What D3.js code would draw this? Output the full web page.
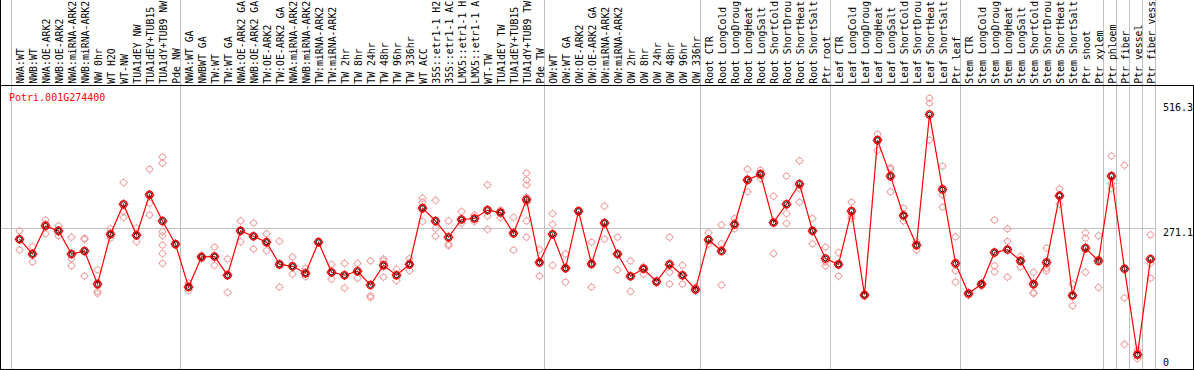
<!DOCTYPE html>
<html><head><meta charset="utf-8">
<script src="https://cdn.jsdelivr.net/npm/d3@7"></script>
<style>body{margin:0;background:#fff}svg{display:block}</style>
</head><body><svg id="c" width="1194" height="370"></svg>
<script>
const gene = "Potri.001G274400";
const labels = [
"NWA:WT","NWB:WT","NWA:OE-ARK2","NWB:OE-ARK2","NWA:miRNA-ARK2","NWB:miRNA-ARK2","NW 0hr","WT H2O","WT-NW","TUA1dEY NW","TUA1dEY+TUB15","TUA1dY+TUB9 NW","Pde NW",
"NWA:WT GA","NWBWT GA","TW:WT","TW:WT GA","NWA:OE-ARK2 GA","NWB:OE-ARK2 GA","TW:OE-ARK2","TW:OE-ARK2 GA","NWA:miRNA-ARK2","NWB:miRNA-ARK2","TW:miRNA-ARK2","TW:miRNA-ARK2","TW 2hr","TW 8hr","TW 24hr","TW 48hr","TW 96hr","TW 336hr","WT ACC","35S::etr1-1 H2","35S::etr1-1 AC","LMX5::etr1-1 H","LMX5::etr1-1 A","WT-TW","TUA1dEY TW","TUA1dEY+TUB15","TUA1dY+TUB9 TW","Pde TW",
"OW:WT","OW:WT GA","OW:OE-ARK2","OW:OE-ARK2 GA","OW:miRNA-ARK2","OW:miRNA-ARK2","OW 2hr","OW 8hr","OW 24hr","OW 48hr","OW 96hr","OW 336hr",
"Root CTR","Root LongCold","Root LongDroug","Root LongHeat","Root LongSalt","Root ShortCold","Root ShortDrou","Root ShortHeat","Root ShortSalt","Ptr root",
"Leaf CTR","Leaf LongCold","Leaf LongDroug","Leaf LongHeat","Leaf LongSalt","Leaf ShortCold","Leaf ShortDrou","Leaf ShortHeat","Leaf ShortSalt","Ptr leaf",
"Stem CTR","Stem LongCold","Stem LongDroug","Stem LongHeat","Stem LongSalt","Stem ShortCold","Stem ShortDrou","Stem ShortHeat","Stem ShortSalt","Ptr shoot","Ptr xylem",
"Ptr phloem","Ptr fiber","Ptr vessel","Ptr fiber vess"];
const means = [249,219,276,266,219,225,158,259,320,257,339,286,239,
152,213,214,176,266,255,243,198,194,180,243,182,176,184,156,196,176,198,312,286,253,289,291,308,303,261,329,202,
259,190,306,199,282,219,174,189,163,198,176,147,
248,225,279,369,381,283,320,361,266,210,
198,306,136,450,377,297,237,502,350,200,
139,158,222,228,205,158,202,337,135,231,205,
377,189,15,209];
const reps = [
[266,249,227],[234,220,203],[288,280,260],[276,265,256],[253,209,195],[251,249,174],[187,143,139],[270,259,251],[364,305,293],[271,257,244],[391,322,298],[416,403,264,256,237,220,200],[239],
[160,152,145],[216,213,209],[233,214,196],[209,176,141],[286,266,244],[282,255,229],[260,243,226],[245,198,152],[213,194,178],[190,180,173],[243],[198,182,168],[200,176,150],[200,184,170],[205,134,131],[209,205,172],[188,176,165],[210,198,185],[332,324,312,285],[328,271,255],[286,239,236],[305,289,281],[298,291,285],[359,296,269],[308,303,293],[293,260,227],[383,369,359,334,324,286,253],[228,202,174],
[301,279,196],[219,190,162],[306],[243,199,152],[316,282,249],[253,219,187],[205,174,143],[193,189,178],[163],[253,182,158],[196,176,158],[152,147,145],
[262,248,239],[278,240,156],[291,279,270],[391,372,345],[389,380,372],[336,282,220],[377,301,281],[408,352,324],[291,266,240],[233,203,195],
[222,198,174],[324,296,291],[138,136,134],[462,450,429],[394,391,345],[312,297,286],[244,237,227],[535,525,450],[397,339,314],[254,185,162],
[141,138,135],[159,157,154],[288,195,183],[270,245,172],[214,205,193],[182,141,139],[231,190,185],[351,337,320],[158,134,114],[262,251,182],[256,209,151],
[418,362,352],[399,130,36],[24,15,7],[258,200,170]];
const groupStarts = [0,13,41,53,63,73,84,85,86,87,88];
const yTicks = [0,271.1,516.3];
const refLine = 271.1;

const W = 1194, H = 370, headerY = 85.5, bottomY = 369.5, plotRight = 1155.5;
const svg = d3.select("#c");
const font = "'DejaVu Sans Mono', 'Liberation Mono', monospace";

const x = d3.scaleBand().domain(d3.range(labels.length)).range([13, 13 + 13 * labels.length]);
const cx = i => x(i) + x.bandwidth() / 2;
const y = d3.scaleLinear().domain([0, 516.3]).range([362, 107.4]);

// separators
svg.append("g").selectAll("line").data(groupStarts).join("line")
  .attr("x1", d => (d < labels.length ? x(d) : x(labels.length - 1) + x.step()) - 1.5)
  .attr("x2", d => (d < labels.length ? x(d) : x(labels.length - 1) + x.step()) - 1.5)
  .attr("y1", 0).attr("y2", bottomY)
  .attr("stroke", "#c0c0c0").attr("stroke-width", 1);

// reference gridline
svg.append("line").attr("x1", 0).attr("x2", plotRight)
  .attr("y1", Math.round(y(refLine)) + 0.5).attr("y2", Math.round(y(refLine)) + 0.5)
  .attr("stroke", "#c0c0c0").attr("stroke-width", 1);

// frame
svg.append("line").attr("x1", 0).attr("x2", W).attr("y1", headerY).attr("y2", headerY).attr("stroke", "#000");
svg.append("line").attr("x1", 0).attr("x2", W).attr("y1", bottomY).attr("y2", bottomY).attr("stroke", "#000");
svg.append("line").attr("x1", 0.5).attr("x2", 0.5).attr("y1", 0).attr("y2", H).attr("stroke", "#000");
svg.append("line").attr("x1", W - 0.5).attr("x2", W - 0.5).attr("y1", headerY).attr("y2", H).attr("stroke", "#000");

// column labels
svg.append("g").selectAll("text").data(labels).join("text")
  .attr("transform", (d, i) => `translate(${cx(i) + 4},83.8) rotate(-90)`)
  .attr("font-family", font).attr("font-size", 9.85).attr("fill", "#000")
  .text(d => d);

// title
svg.append("text").attr("x", 9).attr("y", 101).attr("font-family", font)
  .attr("font-size", 10).attr("fill", "#ff0000").text(gene);

// marker path: circle with small ticks
function marker(r, t) {
  const p = d3.path();
  p.moveTo(r, 0); p.arc(0, 0, r, 0, 2 * Math.PI);
  p.moveTo(0, -r); p.lineTo(0, -r - t);
  p.moveTo(0, r); p.lineTo(0, r + t);
  p.moveTo(-r, 0); p.lineTo(-r - t, 0);
  p.moveTo(r, 0); p.lineTo(r + t, 0);
  return p.toString();
}

// replicates
const repPts = [];
reps.forEach((arr, i) => arr.forEach(v => repPts.push({ i, v })));
svg.append("g").selectAll("path").data(repPts).join("path")
  .attr("d", marker(3, 1.2))
  .attr("transform", d => `translate(${cx(d.i)},${y(d.v)})`)
  .attr("fill", "none").attr("stroke", "#f09a9a").attr("stroke-width", 1);

// mean line
svg.append("path").datum(means)
  .attr("d", d3.line().x((d, i) => cx(i)).y(d => y(d)))
  .attr("fill", "none").attr("stroke", "#ff0000").attr("stroke-width", 1.2);

// mean markers
const mg = svg.append("g").selectAll("g").data(means).join("g")
  .attr("transform", (d, i) => `translate(${cx(i)},${y(d)})`);
mg.append("path").attr("d", marker(3.6, 1.2)).attr("fill", "none")
  .attr("stroke", "#ff0000").attr("stroke-width", 1.4);
mg.append("circle").attr("r", 2.4).attr("fill", "none")
  .attr("stroke", "#000").attr("stroke-width", 0.9);

// right axis
const axis = d3.axisRight(y).tickValues(yTicks).tickSize(0).tickPadding(0)
  .tickFormat(d => d === 0 ? "0" : d3.format(".1f")(d));
const ag = svg.append("g").attr("transform", "translate(1163,0)").call(axis);
ag.select(".domain").remove();
ag.selectAll("text").attr("font-family", font).attr("font-size", 10).attr("fill", "#000")
  .attr("dy", d => d === refLine ? "0.74em" : "0.32em");
</script></body></html>
